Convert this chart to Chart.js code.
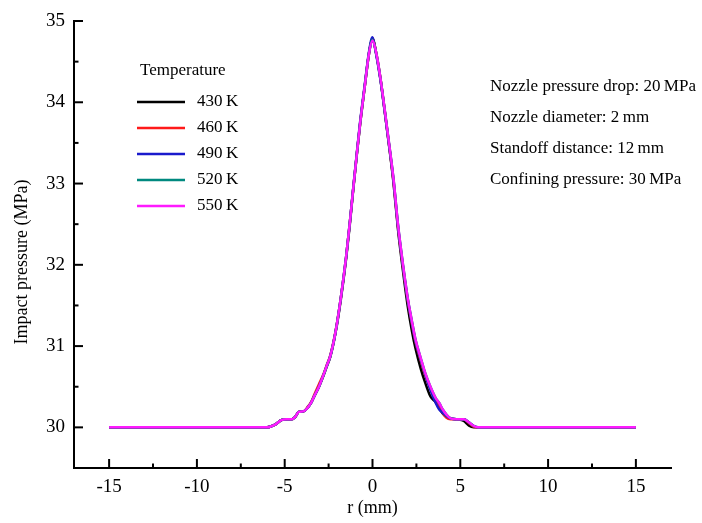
<!DOCTYPE html>
<html>
<head>
<meta charset="utf-8">
<script src="https://cdn.jsdelivr.net/npm/chart.js@4.4.0/dist/chart.umd.min.js"></script>
<style>
  html, body { margin: 0; padding: 0; background: #fff; }
  canvas { display: block; }
</style>
</head>
<body>
<canvas id="myChart" width="702" height="523"></canvas>
<script>
// r (mm) positions shared by all curves
var rValues = [-15, -6, -5.8, -5.5, -5.2, -4.9, -4.6, -4.4, -4.2, -3.9, -3.7, -3.5, -3.3, -3.05, -2.8, -2.6, -2.4, -2.1, -1.8, -1.5, -1.3, -1.1, -0.9, -0.7, -0.45, -0.2, 0, 0.2, 0.45, 0.7, 1.0, 1.2, 1.45, 1.75, 2.0, 2.25, 2.45, 2.75, 3.0, 3.3, 3.6, 3.8, 4.0, 4.2, 4.45, 4.8, 5.2, 5.5, 5.75, 6.0, 15];

var temperatures = ["430\u2009K", "460\u2009K", "490\u2009K", "520\u2009K", "550\u2009K"];
var lineColors = ["#000000", "#ff1a1a", "#1a1acc", "#00897f", "#ff1aff"];

// impact pressure (MPa)
var p430 = [30, 30, 30.01, 30.04, 30.09, 30.1, 30.1, 30.13, 30.19, 30.2, 30.24, 30.3, 30.39, 30.5, 30.63, 30.75, 30.87, 31.17, 31.58, 32.08, 32.48, 32.92, 33.34, 33.74, 34.18, 34.6, 34.79, 34.61, 34.29, 33.88, 33.37, 33.0, 32.44, 31.9, 31.5, 31.18, 30.97, 30.72, 30.55, 30.38, 30.31, 30.24, 30.17, 30.13, 30.11, 30.1, 30.08, 30.02, 30, 30, 30];
var p460 = [30, 30, 30.01, 30.04, 30.09, 30.1, 30.1, 30.13, 30.19, 30.2, 30.25, 30.31, 30.41, 30.53, 30.65, 30.77, 30.89, 31.19, 31.6, 32.1, 32.5, 32.93, 33.35, 33.75, 34.18, 34.6, 34.79, 34.62, 34.3, 33.89, 33.38, 33.02, 32.47, 31.95, 31.57, 31.27, 31.05, 30.82, 30.64, 30.47, 30.33, 30.25, 30.18, 30.12, 30.1, 30.1, 30.1, 30.05, 30.01, 30, 30];
var p490 = [30, 30, 30.01, 30.04, 30.09, 30.1, 30.1, 30.13, 30.19, 30.2, 30.24, 30.3, 30.39, 30.5, 30.64, 30.76, 30.88, 31.18, 31.6, 32.1, 32.5, 32.94, 33.36, 33.77, 34.2, 34.62, 34.8, 34.6, 34.28, 33.88, 33.38, 33.03, 32.48, 31.96, 31.58, 31.28, 31.06, 30.83, 30.65, 30.46, 30.3, 30.22, 30.18, 30.14, 30.11, 30.1, 30.1, 30.06, 30.02, 30, 30];
var p520 = [30, 30, 30.01, 30.04, 30.09, 30.1, 30.1, 30.13, 30.19, 30.2, 30.24, 30.3, 30.39, 30.5, 30.64, 30.76, 30.88, 31.18, 31.6, 32.1, 32.5, 32.93, 33.35, 33.75, 34.18, 34.6, 34.77, 34.62, 34.3, 33.9, 33.4, 33.05, 32.5, 31.98, 31.6, 31.3, 31.08, 30.85, 30.67, 30.5, 30.36, 30.3, 30.22, 30.16, 30.11, 30.1, 30.1, 30.06, 30.02, 30, 30];
var p550 = [30, 30, 30.01, 30.04, 30.09, 30.1, 30.1, 30.13, 30.19, 30.2, 30.24, 30.3, 30.39, 30.5, 30.64, 30.76, 30.88, 31.18, 31.6, 32.1, 32.5, 32.93, 33.35, 33.75, 34.18, 34.6, 34.76, 34.62, 34.3, 33.9, 33.4, 33.05, 32.5, 31.98, 31.6, 31.3, 31.08, 30.85, 30.67, 30.5, 30.36, 30.3, 30.22, 30.16, 30.11, 30.1, 30.1, 30.06, 30.02, 30, 30];

var seriesValues = [p430, p460, p490, p520, p550];

// tick positions (labels only on the major ones)
var xTicks = [-15, -12.5, -10, -7.5, -5, -2.5, 0, 2.5, 5, 7.5, 10, 12.5, 15];
var xLabels = [-15, -10, -5, 0, 5, 10, 15];
var yTicks = [30, 30.5, 31, 31.5, 32, 32.5, 33, 33.5, 34, 34.5, 35];
var yLabels = [30, 31, 32, 33, 34, 35];

var conditions = [
    "Nozzle pressure drop: 20\u2009MPa",
    "Nozzle diameter: 2\u2009mm",
    "Standoff distance: 12\u2009mm",
    "Confining pressure: 30\u2009MPa"
];

var serif = "'Liberation Serif', 'Times New Roman', serif";

var datasets = [];
for (var i = 0; i < temperatures.length; i++) {
    datasets.push({
        label: temperatures[i],
        data: rValues.map(function (r, k) { return { x: r, y: seriesValues[i][k] }; }),
        borderColor: lineColors[i],
        backgroundColor: lineColors[i],
        borderWidth: 2.5,
        pointRadius: 0,
        cubicInterpolationMode: "monotone",
        order: temperatures.length - i
    });
}

// inward tick marks, y title, legend box and the condition notes
var extras = {
    id: "extras",
    afterDraw: function (chart) {
        var ctx = chart.ctx;
        var area = chart.chartArea;
        var xs = chart.scales.x;
        var ys = chart.scales.y;
        ctx.save();
        ctx.strokeStyle = "#000";
        ctx.lineWidth = 2;
        xs.ticks.forEach(function (t) {
            var px = xs.getPixelForValue(t.value);
            var len = xLabels.indexOf(t.value) >= 0 ? 9 : 4.5;
            ctx.beginPath();
            ctx.moveTo(px, area.bottom);
            ctx.lineTo(px, area.bottom - len);
            ctx.stroke();
        });
        ys.ticks.forEach(function (t) {
            var py = ys.getPixelForValue(t.value);
            var len = yLabels.indexOf(t.value) >= 0 ? 9 : 4.5;
            ctx.beginPath();
            ctx.moveTo(area.left, py);
            ctx.lineTo(area.left + len, py);
            ctx.stroke();
        });

        ctx.fillStyle = "#000";
        ctx.textBaseline = "middle";
        ctx.textAlign = "center";

        // y axis title
        ctx.save();
        ctx.font = "18px " + serif;
        ctx.translate(22, 262);
        ctx.rotate(-Math.PI / 2);
        ctx.fillText("Impact pressure (MPa)", 0, 0);
        ctx.restore();

        // legend
        ctx.font = "17px " + serif;
        ctx.textAlign = "left";
        ctx.fillText("Temperature", 140, 71);
        for (var i = 0; i < temperatures.length; i++) {
            var y = 102 + i * 26;
            ctx.strokeStyle = lineColors[i];
            ctx.lineWidth = 2.5;
            ctx.beginPath();
            ctx.moveTo(137, y);
            ctx.lineTo(185, y);
            ctx.stroke();
            ctx.fillText(temperatures[i], 197, y);
        }

        // notes
        for (var j = 0; j < conditions.length; j++) {
            ctx.fillText(conditions[j], 490, 87 + j * 31);
        }
        ctx.restore();
    }
};

new Chart("myChart", {
    type: "line",
    data: { datasets: datasets },
    plugins: [extras],
    options: {
        responsive: false,
        animation: false,
        layout: { padding: { top: 21, right: 31, left: 0, bottom: 0 } },
        plugins: {
            legend: { display: false },
            tooltip: { enabled: false }
        },
        scales: {
            x: {
                type: "linear",
                min: -17,
                max: 17,
                afterFit: function (scale) { scale.height = 55; },
                afterBuildTicks: function (scale) {
                    scale.ticks = xTicks.map(function (v) { return { value: v }; });
                },
                grid: { display: false, drawTicks: false },
                border: { display: true, color: "#000", width: 2 },
                ticks: {
                    autoSkip: false,
                    maxRotation: 0,
                    padding: 8,
                    color: "#000",
                    font: { family: serif, size: 19 },
                    callback: function (v) { return xLabels.indexOf(v) >= 0 ? String(v) : ""; }
                },
                title: {
                    display: true,
                    text: "r (mm)",
                    color: "#000",
                    font: { family: serif, size: 18 },
                    padding: { top: 0, bottom: 4 }
                }
            },
            y: {
                min: 29.5,
                max: 35,
                afterFit: function (scale) { scale.width = 74; },
                afterBuildTicks: function (scale) {
                    scale.ticks = yTicks.map(function (v) { return { value: v }; });
                },
                grid: { display: false, drawTicks: false },
                border: { display: true, color: "#000", width: 2 },
                ticks: {
                    autoSkip: false,
                    padding: 9,
                    color: "#000",
                    font: { family: serif, size: 19 },
                    callback: function (v) { return yLabels.indexOf(v) >= 0 ? String(v) : ""; }
                },
                title: { display: false }
            }
        }
    }
});
</script>
</body>
</html>
